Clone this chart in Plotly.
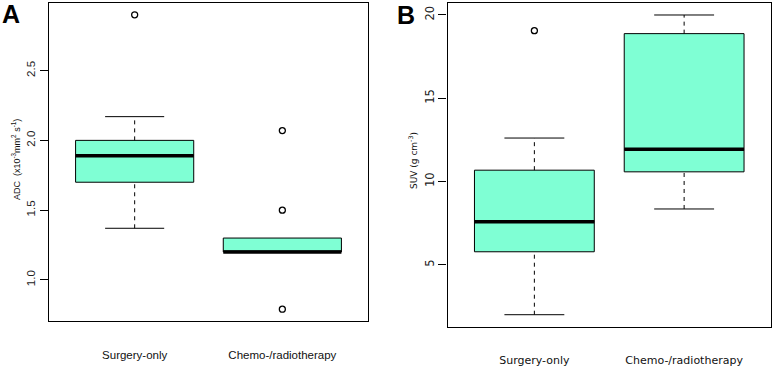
import plotly.graph_objects as go

# ---------------- data ----------------
groups = ["Surgery-only", "Chemo-/radiotherapy"]
positions = [1, 2]

# Panel A: ADC (x10^-3 mm^2 s^-1)
adc_lower = [1.37, 1.20]
adc_q1 = [1.70, 1.20]
adc_median = [1.89, 1.20]
adc_q3 = [2.00, 1.30]
adc_upper = [2.17, 1.30]
adc_out_group = [1, 2, 2, 2]
adc_out_value = [2.90, 2.07, 1.50, 0.79]

# Panel B: SUV (g cm^-3)
suv_lower = [2.00, 8.35]
suv_q1 = [5.78, 10.58]
suv_median = [7.59, 11.94]
suv_q3 = [10.68, 18.88]
suv_upper = [12.61, 20.00]
suv_out_group = [1]
suv_out_value = [19.06]

adc_ticks = [1.0, 1.5, 2.0, 2.5]
suv_ticks = [5, 10, 15, 20]

# ---------------- style ----------------
W, H = 774, 368
FILL = "#7FFFD4"
BOX_W = 0.8
CAP_W = 0.4

fig = go.Figure()


def add_panel(xref, yref, lower, q1, med, q3, upper, og, ov):
    fig.add_trace(go.Box(
        x=positions, q1=q1, median=med, q3=q3,
        lowerfence=q1, upperfence=q3,
        width=BOX_W, whiskerwidth=0,
        fillcolor=FILL, line=dict(color="black", width=1),
        boxpoints=False, showlegend=False, hoverinfo="skip",
        xaxis=xref, yaxis=yref))
    for i, p in enumerate(positions):
        if upper[i] > q3[i]:
            fig.add_trace(go.Scatter(x=[p, p], y=[q3[i], upper[i]], mode="lines",
                                     line=dict(color="black", width=1, dash="4px,4px"),
                                     showlegend=False, hoverinfo="skip", xaxis=xref, yaxis=yref))
            fig.add_trace(go.Scatter(x=[p - CAP_W / 2, p + CAP_W / 2], y=[upper[i], upper[i]],
                                     mode="lines", line=dict(color="black", width=1),
                                     showlegend=False, hoverinfo="skip", xaxis=xref, yaxis=yref))
        if lower[i] < q1[i]:
            fig.add_trace(go.Scatter(x=[p, p], y=[lower[i], q1[i]], mode="lines",
                                     line=dict(color="black", width=1, dash="4px,4px"),
                                     showlegend=False, hoverinfo="skip", xaxis=xref, yaxis=yref))
            fig.add_trace(go.Scatter(x=[p - CAP_W / 2, p + CAP_W / 2], y=[lower[i], lower[i]],
                                     mode="lines", line=dict(color="black", width=1),
                                     showlegend=False, hoverinfo="skip", xaxis=xref, yaxis=yref))
        fig.add_trace(go.Scatter(x=[p - BOX_W / 2, p + BOX_W / 2], y=[med[i], med[i]],
                                 mode="lines", line=dict(color="black", width=3.5),
                                 showlegend=False, hoverinfo="skip", xaxis=xref, yaxis=yref))
    fig.add_trace(go.Scatter(x=og, y=ov, mode="markers",
                             marker=dict(symbol="circle-open", size=6, color="black",
                                         line=dict(width=1.3, color="black")),
                             showlegend=False, hoverinfo="skip", xaxis=xref, yaxis=yref))


add_panel("x", "y", adc_lower, adc_q1, adc_median, adc_q3, adc_upper, adc_out_group, adc_out_value)
add_panel("x2", "y2", suv_lower, suv_q1, suv_median, suv_q3, suv_upper, suv_out_group, suv_out_value)


def padded(vals):
    lo, hi = min(vals), max(vals)
    d = (hi - lo) * 0.04
    return [lo - d, hi + d]


adc_all = adc_lower + adc_upper + adc_out_value
suv_all = suv_lower + suv_upper + suv_out_value

xcommon = dict(range=[0.42, 2.58], tickmode="array", tickvals=positions, ticktext=groups,
               ticks="", showline=True, mirror=True, linecolor="black", linewidth=1.2,
               showgrid=False, zeroline=False, automargin=False)
ycommon = dict(showline=True, mirror=True, linecolor="black", linewidth=1.2,
               showgrid=False, zeroline=False, ticks="outside", ticklen=8,
               tickcolor="black", tickwidth=1, tickangle=-90, automargin=False)

fig.update_layout(
    width=W, height=H, margin=dict(l=0, r=0, t=0, b=0, autoexpand=False),
    paper_bgcolor="white", plot_bgcolor="white",
    xaxis=dict(domain=[49 / W, 368 / W], anchor="y", ticklabelstandoff=23,
               tickfont=dict(family="Liberation Sans, Arial", size=11.5, color="#111"), **xcommon),
    yaxis=dict(domain=[1 - 321 / H, 1 - 3 / H], anchor="x", range=padded(adc_all),
               tickvals=adc_ticks, tickformat=".1f",
               tickfont=dict(family="Liberation Sans, Arial", size=11.5, color="#222"), **ycommon),
    xaxis2=dict(domain=[447.5 / W, 771 / W], anchor="y2", ticklabelstandoff=23,
                tickfont=dict(family="DejaVu Sans, Verdana", size=11, color="#111"), **xcommon),
    yaxis2=dict(domain=[1 - 326.7 / H, 1 - 3 / H], anchor="x2", range=padded(suv_all),
                tickvals=suv_ticks,
                tickfont=dict(family="DejaVu Sans, Verdana", size=11.5, color="#222"), **ycommon),
    annotations=[
        dict(text="<b>A</b>", x=11 / W, y=1 - 14 / H, xref="paper", yref="paper",
             xanchor="center", yanchor="middle",
             showarrow=False, font=dict(family="Liberation Sans, Arial", size=25, color="black")),
        dict(text="<b>B</b>", x=406 / W, y=1 - 15 / H, xref="paper", yref="paper",
             xanchor="center", yanchor="middle",
             showarrow=False, font=dict(family="Liberation Sans, Arial", size=25, color="black")),
        dict(text="ADC  (x10<sup>-3</sup>mm<sup>2</sup> s<sup>-1</sup>)", textangle=-90,
             x=16 / W, y=1 - 160 / H, xref="paper", yref="paper", showarrow=False,
             xanchor="center", yanchor="middle",
             font=dict(family="Liberation Sans, Arial", size=9, color="#111")),
        dict(text="SUV (g cm<sup>-3</sup>)", textangle=-90,
             x=413 / W, y=1 - 161 / H, xref="paper", yref="paper", showarrow=False,
             xanchor="center", yanchor="middle",
             font=dict(family="DejaVu Sans, Verdana", size=9, color="#111")),
    ],
)

fig.write_html("out.html", config={"displayModeBar": False},
               post_script="document.body.style.margin='0';document.body.style.overflow='hidden';")
